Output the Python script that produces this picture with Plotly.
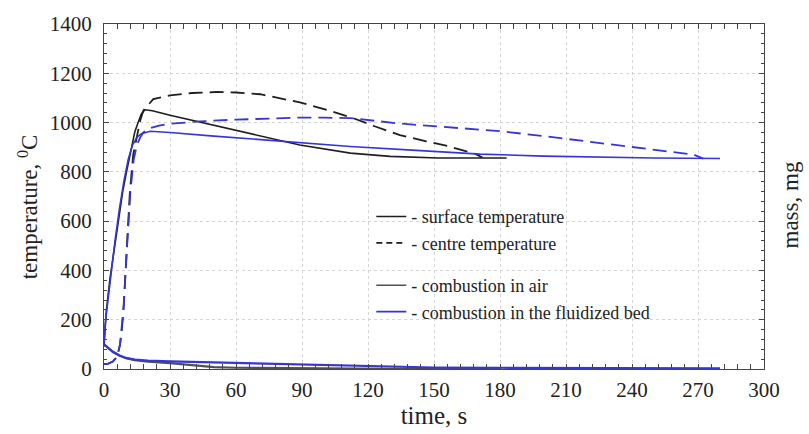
import plotly.graph_objects as go

# ---- data ----
t_surf_air = [0, 0.5, 1, 2.7, 4.5, 6.5, 8.5, 10.3, 12, 14, 15.5, 17, 18.6, 22, 30, 43.6, 60, 75, 89, 112, 130, 152, 183]
T_surf_air = [90, 150, 230, 366, 480, 605, 720, 803, 880, 962, 1000, 1035, 1052, 1048, 1030, 1002, 970, 940, 909, 876, 863, 856, 856]

t_cent_air = [0, 2, 4, 6, 7.3, 8, 8.8, 10.3, 11.8, 13.3, 15, 16.5, 17.9, 20, 22.4, 30, 40, 51, 60, 71, 80, 89, 100, 112, 123, 134.5, 146, 157, 169, 172]
T_cent_air = [20, 22, 30, 50, 100, 150, 234, 498, 724, 870, 950, 1010, 1049, 1072, 1095, 1110, 1120, 1124, 1122, 1115, 1100, 1082, 1055, 1022, 985, 949, 925, 903, 872, 858]

t_surf_fb = [0, 0.5, 1.2, 3, 5, 7, 9, 11, 13, 15, 17, 21, 30, 50, 70, 89, 112, 140, 171, 200, 225, 250, 280]
T_surf_fb = [100, 180, 234, 380, 520, 650, 760, 850, 910, 940, 955, 965, 960, 945, 932, 920, 903, 888, 872, 864, 859, 856, 854]

t_cent_fb = [0, 2, 4, 6, 7.3, 8.2, 9, 10.5, 12, 13.5, 15, 16.5, 17.9, 20, 25, 30, 43.6, 60, 80, 89, 100, 112, 134.5, 160, 180, 200, 225.5, 250, 268, 272.4]
T_cent_fb = [20, 22, 30, 50, 100, 180, 260, 500, 720, 850, 910, 940, 960, 975, 988, 995, 1005, 1012, 1018, 1020, 1020, 1018, 996, 978, 965, 945, 916, 890, 870, 854]

t_mass_air = [0, 2, 4, 7, 10, 14, 20, 30, 40, 50, 60, 80, 100, 130, 180]
m_mass_air = [100, 85, 70, 55, 44, 36, 30, 24, 15, 8, 5, 3, 2, 1, 0.5]

t_mass_fb = [0, 2, 4, 7, 10, 14, 20, 30, 45, 60, 75, 90, 110, 125, 150, 180, 220, 280]
m_mass_fb = [100, 85, 70, 55, 45, 38, 34, 31, 28, 24, 21, 18, 12, 9, 6, 5, 4, 3]

x_ticks = [0, 30, 60, 90, 120, 150, 180, 210, 240, 270, 300]
y_ticks = [0, 200, 400, 600, 800, 1000, 1200, 1400]

legend_names = ["- surface temperature", "- centre temperature",
                "- combustion in air", "- combustion in the fluidized bed"]

BLACK = "#1e1e1e"
GREY = "#505050"
BLUE = "#3535d8"
FONT = "Liberation Serif, Times New Roman, Times, serif"

fig = go.Figure()

# curves
fig.add_trace(go.Scatter(x=t_surf_air, y=T_surf_air, mode="lines", line=dict(color=BLACK, width=1.6), showlegend=False))
fig.add_trace(go.Scatter(x=t_cent_air, y=T_cent_air, mode="lines", line=dict(color=BLACK, width=1.8, dash="14px,7px"), showlegend=False))
fig.add_trace(go.Scatter(x=t_surf_fb, y=T_surf_fb, mode="lines", line=dict(color=BLUE, width=1.6), showlegend=False))
fig.add_trace(go.Scatter(x=t_cent_fb, y=T_cent_fb, mode="lines", line=dict(color=BLUE, width=1.8, dash="14px,7px"), showlegend=False))
fig.add_trace(go.Scatter(x=t_mass_air, y=m_mass_air, mode="lines", line=dict(color=GREY, width=2.2), showlegend=False, yaxis="y2"))
fig.add_trace(go.Scatter(x=t_mass_fb, y=m_mass_fb, mode="lines", line=dict(color=BLUE, width=2.2), showlegend=False, yaxis="y2"))

# legend entries
leg_styles = [dict(color=BLACK, width=1.6), dict(color=BLACK, width=1.6, dash="6px,4px"),
              dict(color=GREY, width=1.6), dict(color=BLUE, width=1.6)]
groups = ["a", "a", "b", "b"]
for name, st, g in zip(legend_names, leg_styles, groups):
    fig.add_trace(go.Scatter(x=[None], y=[None], mode="lines", line=st, name=name, legendgroup=g, showlegend=True))

axis_common = dict(showline=True, linecolor="#444", linewidth=1, ticks="inside", ticklen=5,
                   tickcolor="#444", zeroline=False, tickfont=dict(family=FONT, size=21, color="#222"))

fig.update_layout(
    width=809, height=434,
    margin=dict(l=104, r=45, t=20, b=62),
    paper_bgcolor="white", plot_bgcolor="white",
    font=dict(family=FONT, color="#222"),
    xaxis=dict(range=[0, 300], tickvals=x_ticks, mirror="allticks", showgrid=True, gridcolor="#d4d4d4",
               griddash="dot", gridwidth=1, ticklabelstandoff=2,
               minor=dict(ticks="inside", dtick=6, ticklen=3, tickcolor="#444", showgrid=False),
               title=dict(text="time, s", font=dict(family=FONT, size=25, color="#222"), standoff=2),
               **axis_common),
    yaxis=dict(range=[0, 1400], tickvals=y_ticks, showgrid=True, gridcolor="#d4d4d4", griddash="dot",
               gridwidth=1, ticklabelstandoff=7,
               minor=dict(ticks="inside", dtick=40, ticklen=3, tickcolor="#444", showgrid=False),
               **axis_common),
    yaxis2=dict(range=[0, 1400], tickvals=y_ticks, overlaying="y", side="right", showgrid=False,
                showticklabels=False, showline=True, linecolor="#444", linewidth=1, ticks="inside",
                ticklen=5, tickcolor="#444", zeroline=False,
                minor=dict(ticks="inside", dtick=40, ticklen=3, tickcolor="#444")),
    legend=dict(x=0.405, y=0.495, xanchor="left", yanchor="top", bgcolor="rgba(255,255,255,0)",
                font=dict(family=FONT, size=18, color="#222"), traceorder="grouped", tracegroupgap=16,
                itemwidth=30),
    annotations=[
        dict(text="temperature, <sup>0</sup>C", xref="paper", yref="paper", x=-0.1152, y=0.4716,
             xanchor="center", yanchor="middle", textangle=-90, showarrow=False,
             font=dict(family=FONT, size=23, color="#222")),
        dict(text="mass, mg", xref="paper", yref="paper", x=1.0394, y=0.474,
             xanchor="center", yanchor="middle", textangle=-90, showarrow=False,
             font=dict(family=FONT, size=23, color="#222")),
    ],
)

fig.write_html("out.html")
